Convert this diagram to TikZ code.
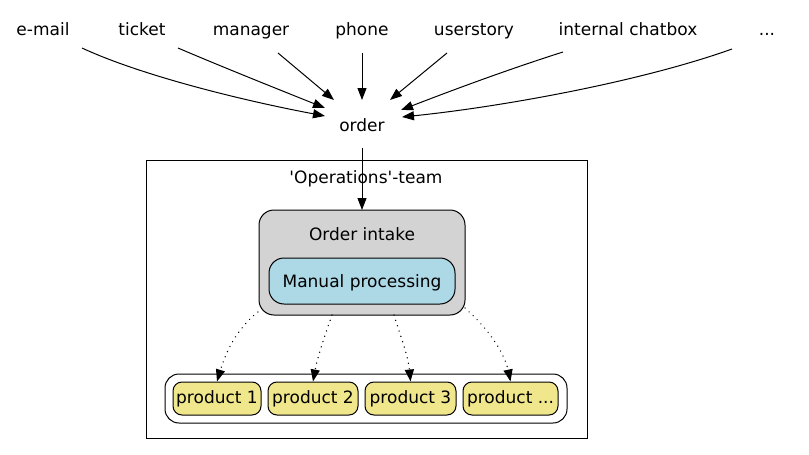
\documentclass[tikz,border=0pt]{standalone}
\usepackage{fontspec}
\setmainfont[Ligatures={TeXOff,CommonOff}]{DejaVu Sans}
\usetikzlibrary{arrows.meta}
\tikzset{
  lbl/.style={font=\fontsize{17}{19}\selectfont, inner sep=0pt, anchor=base},
  arr/.style={-{Triangle[length=12pt,width=9pt]}, line width=1pt},
  darr/.style={arr, line cap=round, dash pattern=on 0.1pt off 5.5pt, line width=1.4pt},
  prod/.style={draw, line width=1pt, rounded corners=9pt, fill=khaki, minimum height=33pt, inner sep=1pt, font=\fontsize{17}{19}\selectfont},
  box/.style={line width=1pt},
}
\definecolor{khaki}{HTML}{F0E68C}
\definecolor{lgray}{HTML}{D3D3D3}
\definecolor{lblue}{HTML}{ADD8E6}
\begin{document}
\begin{tikzpicture}[x=1pt,y=-1pt]
\useasboundingbox (0,0) rectangle (809,455);
% sources
\node[lbl] (email) at (43,35) {e-mail};
\node[lbl] (ticket) at (142,35) {ticket};
\node[lbl] (manager) at (251,35) {manager};
\node[lbl] (phone) at (362,35) {phone};
\node[lbl] (userstory) at (474,35) {userstory};
\node[lbl] (chat) at (628,35) {internal chatbox};
\node[lbl] (dots) at (767,35) {...};
\node[lbl] (order) at (362,131) {order};
% cluster
\draw[box] (146,160) rectangle (587,438);
\node[lbl] (team) at (366,183) {'Operations'-team};
% order intake
\draw[box, fill=lgray, rounded corners=15pt] (259,210) rectangle (465,315);
\node[lbl] (intake) at (362,240) {Order intake};
\draw[box, fill=lblue, rounded corners=15pt] (269,258) rectangle (455,304);
\node[lbl] (manual) at (362,287) {Manual processing};
\coordinate (intakeTop) at (362,210);
% products
\draw[box, fill=white, rounded corners=14pt] (165,374) rectangle (567,423);
\node[prod, minimum width=88pt] (p1) at (217,398.5) {product 1};
\node[prod, minimum width=90pt] (p2) at (313,398.5) {product 2};
\node[prod, minimum width=91pt] (p3) at (410.5,398.5) {product 3};
\node[prod, minimum width=95pt] (p4) at (510.5,398.5) {product ...};
% edges to order
\coordinate (e1) at (82,48);
\coordinate (e2) at (178,48);
\coordinate (e3) at (278,53);
\coordinate (e4) at (362,53);
\coordinate (e5) at (447,53);
\coordinate (e6) at (563,52);
\coordinate (e7) at (732,49);
\coordinate (t1) at (325,116);
\coordinate (t2) at (325,108);
\coordinate (t3) at (334,100);
\coordinate (t4) at (362,100);
\coordinate (t5) at (390,100);
\coordinate (t6) at (401,110);
\coordinate (t7) at (402,117);
\draw[arr] (e1) .. controls (140,75) and (240,100) .. (t1);
\draw[arr] (e2) .. controls (220,66) and (280,90) .. (t2);
\draw[arr] (e3) -- (t3);
\draw[arr] (e4) -- (t4);
\draw[arr] (e5) -- (t5);
\draw[arr] (e6) .. controls (500,72) and (440,95) .. (t6);
\draw[arr] (e7) .. controls (640,82) and (500,107) .. (t7);
\draw[arr] (362,148) -- (intakeTop);
% dotted edges
\draw[darr] (258,312) .. controls (235,330) and (225,355) .. (p1.north);
\draw[darr] (332,315) .. controls (325,335) and (318,355) .. (p2.north);
\draw[darr] (394,315) .. controls (400,335) and (408,355) .. (p3.north);
\draw[darr] (465,308) .. controls (490,330) and (505,355) .. (p4.north);
\end{tikzpicture}
\end{document}
